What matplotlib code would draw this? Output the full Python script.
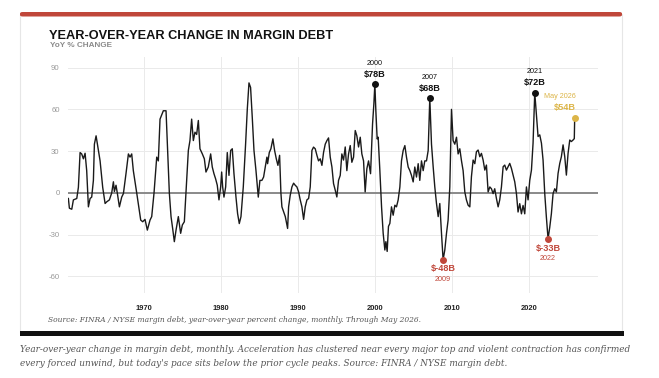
import matplotlib
matplotlib.use("Agg")
import matplotlib.pyplot as plt
from matplotlib.patches import FancyBboxPatch, Rectangle
import numpy as np

# ---- data (decimal year, YoY % change) ----
years = [1960.17, 1960.30, 1960.61, 1960.82, 1961.04, 1961.26, 1961.47, 1961.69, 1961.90, 1962.12,
         1962.34, 1962.55, 1962.77, 1962.99, 1963.20, 1963.42, 1963.55, 1963.77, 1963.94, 1964.29,
         1964.63, 1964.94, 1965.15, 1965.50, 1965.80, 1966.02, 1966.15, 1966.36, 1966.54, 1966.80,
         1967.10, 1967.32, 1967.66, 1967.97, 1968.18, 1968.40, 1968.61, 1969.05, 1969.31, 1969.57,
         1969.83, 1970.13, 1970.43, 1970.78, 1971.00, 1971.30, 1971.65, 1971.86, 1972.08, 1972.51,
         1972.86, 1973.03, 1973.29, 1973.51, 1973.72, 1973.94, 1974.16, 1974.46, 1974.76, 1974.98,
         1975.24, 1975.45, 1975.76, 1975.97, 1976.19, 1976.41, 1976.62, 1976.84, 1977.06, 1977.27,
         1977.58, 1977.84, 1978.05, 1978.35, 1978.66, 1978.87, 1979.09, 1979.31, 1979.52, 1979.74,
         1979.96, 1980.09, 1980.22, 1980.39, 1980.61, 1980.82, 1981.04, 1981.26, 1981.47, 1981.69,
         1981.95, 1982.16, 1982.38, 1982.60, 1982.90, 1983.20, 1983.42, 1983.64, 1983.85, 1984.07,
         1984.29, 1984.55, 1984.85, 1985.06, 1985.32, 1985.54, 1985.76, 1985.97, 1986.06, 1986.28,
         1986.49, 1986.75, 1986.97, 1987.19, 1987.40, 1987.62, 1987.79, 1987.92, 1988.14, 1988.36,
         1988.66, 1988.79, 1989.00, 1989.22, 1989.44, 1989.65, 1989.87, 1990.09, 1990.30, 1990.52,
         1990.74, 1990.95, 1991.17, 1991.39, 1991.60, 1991.82, 1992.03, 1992.25, 1992.47, 1992.68,
         1992.90, 1993.12, 1993.33, 1993.55, 1993.77, 1993.98, 1994.20, 1994.42, 1994.63, 1994.85,
         1995.06, 1995.28, 1995.50, 1995.71, 1995.93, 1996.15, 1996.36, 1996.58, 1996.80, 1997.01,
         1997.23, 1997.45, 1997.66, 1997.88, 1998.10, 1998.31, 1998.53, 1998.74, 1998.96, 1999.18,
         1999.44, 1999.70, 1999.87, 2000.00, 2000.13, 2000.30, 2000.43, 2000.65, 2000.87, 2001.08,
         2001.30, 2001.43, 2001.60, 2001.77, 2001.95, 2002.16, 2002.38, 2002.60, 2002.81, 2003.03,
         2003.25, 2003.46, 2003.68, 2003.90, 2004.11, 2004.33, 2004.55, 2004.76, 2004.98, 2005.19,
         2005.41, 2005.63, 2005.84, 2006.06, 2006.28, 2006.49, 2006.71, 2006.93, 2007.14, 2007.36,
         2007.58, 2007.79, 2008.01, 2008.23, 2008.44, 2008.66, 2008.87, 2009.09, 2009.31, 2009.52,
         2009.74, 2009.96, 2010.17, 2010.39, 2010.61, 2010.82, 2011.04, 2011.26, 2011.47, 2011.69,
         2011.90, 2012.12, 2012.34, 2012.55, 2012.77, 2012.99, 2013.20, 2013.42, 2013.64, 2013.85,
         2014.07, 2014.29, 2014.50, 2014.72, 2014.94, 2015.15, 2015.37, 2015.58, 2015.80, 2016.02,
         2016.23, 2016.45, 2016.67, 2016.88, 2017.10, 2017.32, 2017.53, 2017.75, 2017.97, 2018.18,
         2018.40, 2018.61, 2018.83, 2019.05, 2019.26, 2019.48, 2019.70, 2019.91, 2020.13, 2020.35,
         2020.56, 2020.78, 2020.99, 2021.21, 2021.43, 2021.65, 2021.86, 2022.08, 2022.29, 2022.51,
         2022.73, 2022.94, 2023.16, 2023.38, 2023.59, 2023.81, 2024.03, 2024.24, 2024.46, 2024.68,
         2024.89, 2025.11, 2025.33, 2025.54, 2025.76, 2025.92, 2025.97]
yoy = [-4, -11, -11.7, -5, -4.5, -4, 4, 29, 28, 24.5,
       28.5, 16, -10, -4, -3, 9, 35, 41, 35, 23,
       4, -7.6, -6.4, -5, 0, 8, 1, 5.5, -0.5, -10,
       -3, -0.5, 14, 28, 25.7, 28, 16, 0, -10, -19.5,
       -20.7, -19, -26.7, -19.5, -17, 0, 25.7, 23, 53, 59,
       59, 35, 0, -17, -25.5, -35, -26.7, -17, -29, -23,
       -20.7, 0, 30.5, 37.6, 53, 37.6, 43.6, 42, 52, 31.7,
       28, 24.5, 15, 18.6, 28, 18.6, 13.8, 10, 5.5, -5,
       4.3, 15, 4.3, -3, 4.3, 29, 12.6, 30.5, 31.7, 13.8,
       -3, -14.8, -22, -17, 4.3, 35, 60, 79, 75.7, 54,
       30.5, 16, -3, 9, 9, 11.4, 18.6, 25.7, 21, 29,
       31.7, 38.8, 30.5, 24.5, 19.8, 27, 0, -10, -13.6, -17,
       -25.5, -10, -1.7, 4.3, 7, 5.5, 4.3, 0.7, -5, -10,
       -19, -10, -5, -4, 4.3, 30.5, 32.9, 31.7, 27, 23,
       24.5, 19.8, 29, 35, 37.6, 39.5, 25.7, 18.6, 6.7, 2,
       -2.9, 9, 12.6, 28, 23.6, 33, 16, 28, 34, 22,
       25.7, 44.8, 41, 33, 40, 28, 23, 0.7, 17.4, 23,
       13.8, 49.5, 63.8, 78, 59, 38.8, 40, 16, -10, -29,
       -41, -35, -42, -24, -21.9, -10, -16, -8.8, -10, -5,
       4.3, 23, 30.5, 34, 25.7, 18.6, 16, 12.6, 7.9, 18.6,
       11.4, 21, 9, 23, 16, 23, 23, 30.5, 68, 35,
       18.6, 4.3, -7.6, -17, -7.6, -29, -48, -41, -29, -19.5,
       4.3, 60, 37.6, 35, 40, 28, 31.7, 23, 16, 0.7,
       -5, -8.8, -10, 11.6, 23.6, 21, 29.6, 30.8, 26, 28.4,
       23.6, 16.4, 20, 0.7, 4.3, 3, -0.5, 3, -4, -10,
       -5, 4.3, 18.8, 20, 16.4, 18.8, 21.2, 17.6, 12.8, 8,
       -0.5, -13.7, -7.7, -15, -9, -15, 4.3, -5, 9, 16.4,
       35.7, 72, 57, 40.5, 41.7, 35.7, 23.6, -0.5, -17.3, -33,
       -24.6, -15, -0.5, 3, 0.7, 14, 21.2, 26, 34.5, 26,
       12.8, 28.4, 38, 36.9, 38, 39, 54]

peak_labels = [("2000", "$78B", 1999.5, 2000.5), ("2007", "$68B", 2006.5, 2007.5), ("2021", "$72B", 2020.3, 2021.5)]
trough_labels = [("2009", "$-48B", 2008.5, 2009.5), ("2022", "$-33B", 2022.0, 2023.0)]
latest_label = ("May 2026", "$54B")

x_ticks = [1970, 1980, 1990, 2000, 2010, 2020]
y_ticks = [-60, -30, 0, 30, 60, 90]

title = "YEAR-OVER-YEAR CHANGE IN MARGIN DEBT"
subtitle = "YoY % CHANGE"
source = "Source: FINRA / NYSE margin debt, year-over-year percent change, monthly. Through May 2026."
caption_lines = ["Year-over-year change in margin debt, monthly. Acceleration has clustered near every major top and violent contraction has confirmed",
                 "every forced unwind, but today's pace sits below the prior cycle peaks. Source: FINRA / NYSE margin debt."]

# ---- figure ----
W, H = 659, 378
fig = plt.figure(figsize=(W / 100, H / 100), dpi=100)
fig.patch.set_facecolor("white")

def fx(px):
    return px / W

def fy(py):
    return 1 - py / H

# card
card = Rectangle((fx(20), fy(333)), fx(622) - fx(20), fy(14) - fy(333), transform=fig.transFigure,
                 facecolor="white", edgecolor="#e6e6e6", linewidth=0.8, zorder=-2)
fig.patches.append(card)
redbar = FancyBboxPatch((fx(20), fy(16.5)), fx(622) - fx(20), fy(12) - fy(16.5),
                        boxstyle="round,pad=0,rounding_size=0.004", transform=fig.transFigure,
                        facecolor="#c0473a", edgecolor="none", zorder=-1)
fig.patches.append(redbar)
blackbar = Rectangle((fx(20), fy(335.5)), fx(624) - fx(20), fy(331) - fy(335.5), transform=fig.transFigure,
                     facecolor="#111111", edgecolor="none", zorder=-1)
fig.patches.append(blackbar)

fig.text(fx(49), fy(36), title, fontsize=9.2, fontweight="bold", color="#111111",
         family="Liberation Sans", va="center", ha="left")
fig.text(fx(50), fy(45.5), subtitle, fontsize=5.9, fontweight="bold", color="#8a8a8a",
         family="Liberation Sans", va="center", ha="left")
fig.text(fx(48), fy(320.5), source, fontsize=5.45, style="italic", color="#555555",
         family="DejaVu Serif", va="center", ha="left")
for k, line in enumerate(caption_lines):
    fig.text(fx(20), fy(350 + 14 * k), line, fontsize=6.4, style="italic", color="#555555",
             family="DejaVu Serif", va="center", ha="left")

# axes
ax = fig.add_axes([fx(68), fy(292.5), fx(598) - fx(68), fy(57) - fy(292.5)])
ax.set_zorder(3)
ax.patch.set_alpha(0)
ax.set_xlim(1960.12, 2029.0)
ax.set_ylim(-71.5, 97.6)
ax.set_xticks(x_ticks)
ax.set_yticks(y_ticks)
ax.set_xticklabels([str(t) for t in x_ticks], fontsize=5.4, fontweight="bold", color="#222222",
                   family="Liberation Sans")
ax.set_yticklabels([str(t) for t in y_ticks], fontsize=5.6, color="#999999", family="Liberation Sans")
ax.tick_params(axis="both", length=0)
ax.tick_params(axis="x", pad=9)
ax.tick_params(axis="y", pad=6)
for s in ax.spines.values():
    s.set_visible(False)
ax.grid(True, color="#eaeaea", linewidth=0.7)
ax.set_axisbelow(True)
ax.axhline(0, color="#8a8a8a", linewidth=1.4, zorder=2)

yr = np.array(years)
vv = np.array(yoy)
ax.plot(yr, vv, color="#1a1a1a", linewidth=1.0, zorder=3, solid_joinstyle="round")

for lab_year, lab_val, lo, hi in peak_labels:
    m = (yr >= lo) & (yr <= hi)
    i = np.argmax(np.where(m, vv, -1e9))
    ax.scatter([yr[i]], [vv[i]], s=16, color="#111111", zorder=4)
    ax.annotate(lab_val, (yr[i], vv[i]), xytext=(0, 7.3), textcoords="offset points",
                ha="center", va="center", fontsize=6.6, fontweight="bold", color="#111111",
                family="Liberation Sans")
    ax.annotate(lab_year, (yr[i], vv[i]), xytext=(0, 15.2), textcoords="offset points",
                ha="center", va="center", fontsize=5.2, color="#111111", family="Liberation Sans")

for lab_year, lab_val, lo, hi in trough_labels:
    m = (yr >= lo) & (yr <= hi)
    i = np.argmin(np.where(m, vv, 1e9))
    ax.scatter([yr[i]], [vv[i]], s=16, color="#c0473a", zorder=4)
    ax.annotate(lab_val, (yr[i], vv[i]), xytext=(0, -6.6), textcoords="offset points",
                ha="center", va="center", fontsize=6.6, fontweight="bold", color="#c0473a",
                family="Liberation Sans")
    ax.annotate(lab_year, (yr[i], vv[i]), xytext=(0, -14.3), textcoords="offset points",
                ha="center", va="center", fontsize=5.2, color="#c0473a", family="Liberation Sans")

ax.scatter([yr[-1]], [vv[-1]], s=16, color="#dcb548", zorder=4)
ax.annotate(latest_label[1], (yr[-1], vv[-1]), xytext=(1, 7.5), textcoords="offset points",
            ha="right", va="center", fontsize=6.6, fontweight="bold", color="#dcb548",
            family="Liberation Sans")
ax.annotate(latest_label[0], (yr[-1], vv[-1]), xytext=(1, 15.2), textcoords="offset points",
            ha="right", va="center", fontsize=5.2, color="#dcb548", family="Liberation Sans")

fig.savefig("out.png", dpi=100, facecolor="white")
